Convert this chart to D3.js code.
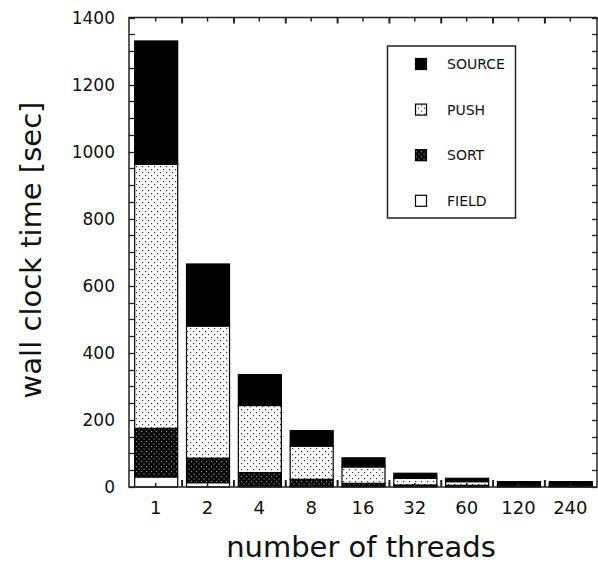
<!DOCTYPE html>
<html>
<head>
<meta charset="utf-8">
<script src="https://cdn.jsdelivr.net/npm/d3@7"></script>
<style>
  body { margin: 0; background: #fff; }
  text { font-family: "DejaVu Sans", sans-serif; fill: #111; }
</style>
</head>
<body>
<svg id="chart" width="598" height="569"></svg>
<script>
// data (seconds per phase, stacked bottom -> top)
var threads = ['1', '2', '4', '8', '16', '32', '60', '120', '240'];
var field  = [30, 13, 4, 3, 2, 2, 2, 2, 2];
var sort   = [145, 73, 39, 20, 9, 4, 3, 3, 3];
var push   = [787, 394, 200, 99, 49, 20, 11, 4, 4];
var source = [368, 185, 92, 46, 27, 15, 10, 7, 7];
var phases = ['FIELD', 'SORT', 'PUSH', 'SOURCE'];
var yTicks = [0, 200, 400, 600, 800, 1000, 1200, 1400];

var rows = threads.map(function (t, i) {
  return { t: t, FIELD: field[i], SORT: sort[i], PUSH: push[i], SOURCE: source[i] };
});

var plotL = 129, plotR = 597, plotT = 17.5, plotB = 487;
var svg = d3.select('#chart');

// patterns ------------------------ //
var defs = svg.append('defs');
var pPush = defs.append('pattern').attr('id', 'pat-push')
  .attr('patternUnits', 'userSpaceOnUse').attr('width', 6).attr('height', 6);
pPush.append('rect').attr('width', 6).attr('height', 6).attr('fill', '#fff');
pPush.append('rect').attr('x', 1).attr('y', 1).attr('width', 1.2).attr('height', 1.2).attr('fill', '#333');
pPush.append('rect').attr('x', 4).attr('y', 4).attr('width', 1.2).attr('height', 1.2).attr('fill', '#333');

var pSort = defs.append('pattern').attr('id', 'pat-sort')
  .attr('patternUnits', 'userSpaceOnUse').attr('width', 5).attr('height', 5);
pSort.append('rect').attr('width', 5).attr('height', 5).attr('fill', '#080808');
pSort.append('rect').attr('x', 1).attr('y', 1).attr('width', 1.1).attr('height', 1.1).attr('fill', '#999');
pSort.append('rect').attr('x', 3.5).attr('y', 3.5).attr('width', 1.1).attr('height', 1.1).attr('fill', '#999');

var fills = {
  FIELD: '#fff',
  SORT: 'url(#pat-sort)',
  PUSH: 'url(#pat-push)',
  SOURCE: '#000'
};

// scales -------------------------- //
var x = d3.scaleBand().domain(threads).range([plotL, plotR])
  .paddingInner(0.17).paddingOuter(0.1);
var y = d3.scaleLinear().domain([0, 1400]).range([plotB, plotT]);

var stack = d3.stack().keys(phases);
var series = stack(rows);

// bars ---------------------------- //
var g = svg.append('g');
g.selectAll('g.layer')
  .data(series)
  .enter()
  .append('g')
  .attr('class', 'layer')
  .attr('fill', function (d) { return fills[d.key]; })
  .selectAll('rect')
  .data(function (d) { return d; })
  .enter()
  .append('rect')
  .attr('x', function (d) { return x(d.data.t) + 0.5; })
  .attr('width', x.bandwidth())
  .attr('y', function (d) { return y(d[1]); })
  .attr('height', function (d) { return y(d[0]) - y(d[1]); })
  .attr('stroke', '#000')
  .attr('stroke-width', 1.2);

// frame and ticks ------------------ //
var frame = svg.append('g').attr('stroke', '#222').attr('fill', 'none');
frame.append('rect')
  .attr('x', plotL).attr('y', plotT)
  .attr('width', plotR - plotL).attr('height', plotB - plotT)
  .attr('stroke-width', 1.5);

var minor = d3.range(0, 1401, 50);
frame.selectAll('line.yl').data(minor).enter().append('line')
  .attr('x1', plotL).attr('x2', plotL + 6)
  .attr('y1', function (d) { return Math.round(y(d)) + 0.5; })
  .attr('y2', function (d) { return Math.round(y(d)) + 0.5; })
  .attr('stroke-width', 1.3);
frame.selectAll('line.yr').data(minor).enter().append('line')
  .attr('x1', plotR).attr('x2', plotR - 5)
  .attr('y1', function (d) { return Math.round(y(d)) + 0.5; })
  .attr('y2', function (d) { return Math.round(y(d)) + 0.5; })
  .attr('stroke-width', 1.3);

var step = x.step();
var seps = threads.slice(1).map(function (t) { return x(t) - step * x.paddingInner() / 2; });
frame.selectAll('line.sb').data(seps).enter().append('line')
  .attr('x1', function (d) { return d + 0.5; }).attr('x2', function (d) { return d + 0.5; })
  .attr('y1', plotB).attr('y2', plotB - 7)
  .attr('stroke-width', 2);
frame.selectAll('line.st').data(seps).enter().append('line')
  .attr('x1', function (d) { return d + 0.5; }).attr('x2', function (d) { return d + 0.5; })
  .attr('y1', plotT).attr('y2', plotT + 6)
  .attr('stroke-width', 2);
frame.selectAll('line.cb').data(threads).enter().append('line')
  .attr('x1', function (d) { return x(d) + x.bandwidth() / 2; })
  .attr('x2', function (d) { return x(d) + x.bandwidth() / 2; })
  .attr('y1', plotB).attr('y2', plotB - 4)
  .attr('stroke-width', 1.5);
frame.selectAll('line.ct').data(threads).enter().append('line')
  .attr('x1', function (d) { return x(d) + x.bandwidth() / 2; })
  .attr('x2', function (d) { return x(d) + x.bandwidth() / 2; })
  .attr('y1', plotT).attr('y2', plotT + 4)
  .attr('stroke-width', 1.5);

// tick labels --------------------- //
svg.append('g').selectAll('text')
  .data(yTicks).enter().append('text')
  .attr('x', plotL - 14)
  .attr('y', function (d) { return y(d); })
  .attr('dy', '0.36em')
  .attr('text-anchor', 'end')
  .style('font-size', '17px')
  .text(function (d) { return d; });

svg.append('g').selectAll('text')
  .data(threads).enter().append('text')
  .attr('x', function (d) { return x(d) + x.bandwidth() / 2; })
  .attr('y', 514)
  .attr('text-anchor', 'middle')
  .style('font-size', '18px')
  .text(function (d) { return d; });

// axis titles --------------------- //
svg.append('text')
  .attr('x', 361).attr('y', 557)
  .attr('text-anchor', 'middle')
  .style('font-size', '29px')
  .text('number of threads');

svg.append('text')
  .attr('transform', 'translate(41,250) rotate(-90)')
  .attr('text-anchor', 'middle')
  .style('font-size', '29px')
  .text('wall clock time [sec]');

// legend -------------------------- //
var legendOrder = ['SOURCE', 'PUSH', 'SORT', 'FIELD'];
var lg = svg.append('g');
lg.append('rect')
  .attr('x', 387.5).attr('y', 46)
  .attr('width', 128).attr('height', 172)
  .attr('fill', '#fff').attr('stroke', '#222').attr('stroke-width', 1.5);

var item = lg.selectAll('g.item')
  .data(legendOrder).enter().append('g')
  .attr('class', 'item')
  .attr('transform', function (d, i) { return 'translate(0,' + (64 + i * 45.6) + ')'; });
item.append('rect')
  .attr('x', 415.5).attr('y', -5.5)
  .attr('width', 11).attr('height', 11)
  .attr('fill', function (d) { return fills[d]; })
  .attr('stroke', '#000').attr('stroke-width', 1.2);
item.append('text')
  .attr('x', 447).attr('dy', '0.36em')
  .style('font-size', '14px')
  .text(function (d) { return d; });
</script>
</body>
</html>
